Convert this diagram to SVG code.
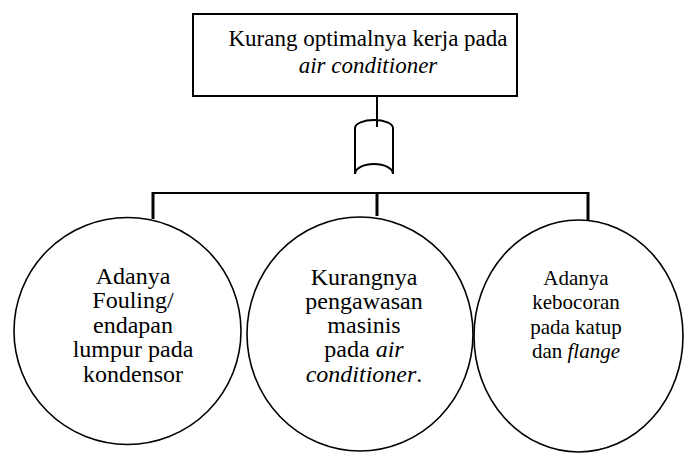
<svg xmlns="http://www.w3.org/2000/svg" width="685" height="453" viewBox="0 0 685 453">
<style>
.box{fill:#fff;stroke:#000;stroke-width:2}
.node{fill:#fff;stroke:#000;stroke-width:1.6}
.ln{fill:none;stroke:#000;stroke-width:2}
.tk{fill:none;stroke:#000;stroke-width:3}
.t1{font-size:23px}
.t2{font-size:24px}
.t3{font-size:21px}
.i{font-style:italic}
</style>
<rect width="685" height="453" fill="#fff"/>
<g id="connectors">
<line class="ln" x1="377" y1="96" x2="377" y2="127"/>
<path class="ln" d="M355,174 V128 A19,8 0 0 1 393,128 V174 A19,10 0 0 0 355,174"/>
<path class="ln" d="M153,193 H588"/>
<line class="tk" x1="153" y1="192" x2="153" y2="219"/>
<line class="tk" x1="377" y1="192" x2="377" y2="216"/>
<line class="tk" x1="588" y1="192" x2="588" y2="227"/>
</g>
<g font-family="Liberation Serif, Times New Roman, serif" fill="#000" text-anchor="middle">
<g id="top">
<rect class="box" x="193" y="14" width="324" height="82"/>
<text class="t1" x="368" y="46">Kurang optimalnya kerja pada</text>
<text class="t1 i" x="368" y="73">air conditioner</text>
</g>
<g id="c1">
<ellipse class="node" cx="127.5" cy="331" rx="113.5" ry="113.5"/>
<text class="t2" x="133" y="284">Adanya</text>
<text class="t2" x="133" y="308">Fouling/</text>
<text class="t2" x="133" y="333">endapan</text>
<text class="t2" x="133" y="357">lumpur pada</text>
<text class="t2" x="133" y="382">kondensor</text>
</g>
<g id="c2">
<ellipse class="node" cx="360" cy="334" rx="113" ry="117"/>
<text class="t2" x="364" y="285">Kurangnya</text>
<text class="t2" x="364" y="309">pengawasan</text>
<text class="t2" x="364" y="333">masinis</text>
<text class="t2" x="364" y="357">pada <tspan class="i">air</tspan></text>
<text class="t2" x="364" y="382"><tspan class="i">conditioner</tspan>.</text>
</g>
<g id="c3">
<ellipse class="node" cx="578.5" cy="336" rx="104.5" ry="116"/>
<text class="t3" x="576" y="285">Adanya</text>
<text class="t3" x="576" y="309">kebocoran</text>
<text class="t3" x="576" y="334">pada katup</text>
<text class="t3" x="576" y="358">dan <tspan class="i">flange</tspan></text>
</g>
</g>
</svg>
